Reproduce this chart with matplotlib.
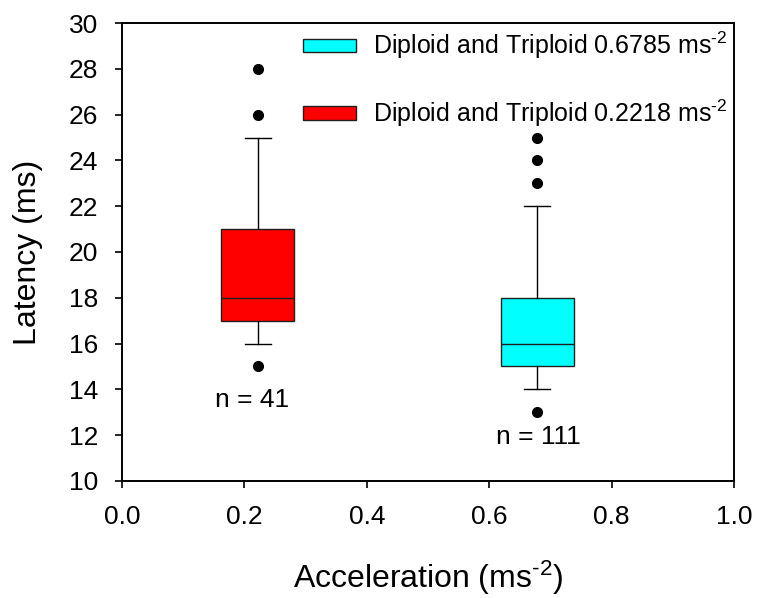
import matplotlib
matplotlib.use("Agg")
import matplotlib.pyplot as plt
from matplotlib.patches import Patch
import numpy as np

plt.rcParams['font.family'] = ['Liberation Sans', 'DejaVu Sans']
plt.rcParams['mathtext.fontset'] = 'custom'
plt.rcParams['mathtext.rm'] = 'Liberation Sans'
plt.rcParams['mathtext.it'] = 'Liberation Sans:italic'

# box summaries
accel = [0.2218, 0.6785]
colors = ['#ff0000', '#00ffff']
q1 = [17, 15]
med = [18, 16]
q3 = [21, 18]
wlo = [16, 14]
whi = [25, 22]
fliers = [[15, 26, 28], [13, 23, 24, 25]]
n_labels = ['n = 41', 'n = 111']
n_pos = [(0.213, 13.55), (0.681, 11.9)]
legend_labels = [r'Diploid and Triploid 0.6785 ms$^{\text{-2}}$',
                 r'Diploid and Triploid 0.2218 ms$^{\text{-2}}$']

stats = []
for i in range(2):
    stats.append(dict(q1=q1[i], med=med[i], q3=q3[i], whislo=wlo[i],
                      whishi=whi[i], fliers=np.array(fliers[i])))

fig = plt.figure(figsize=(7.57, 5.98), dpi=100)
ax = fig.add_axes([0.1612, 0.1957, 0.8084, 0.7658])

bp = ax.bxp(stats, positions=accel, widths=0.12, capwidths=0.043,
            patch_artist=True, manage_ticks=False,
            boxprops=dict(edgecolor='#202020', linewidth=1.0),
            medianprops=dict(color='#202020', linewidth=1.0),
            whiskerprops=dict(color='black', linewidth=1.0),
            capprops=dict(color='black', linewidth=1.0),
            flierprops=dict(marker='o', markerfacecolor='black',
                            markeredgecolor='black', markersize=7))
for box, c in zip(bp['boxes'], colors):
    box.set_facecolor(c)

for lab, (x, y) in zip(n_labels, n_pos):
    ax.text(x, y, lab, ha='center', va='center', fontsize=19)

ax.set_xlim(0, 1)
ax.set_ylim(10, 30)
ax.set_xticks(np.arange(0, 1.01, 0.2))
ax.set_yticks(np.arange(10, 31, 2))
ax.xaxis.set_major_formatter(matplotlib.ticker.FormatStrFormatter('%.1f'))
ax.tick_params(direction='out', length=5, width=1.2, labelsize=19, pad=12)
for s in ax.spines.values():
    s.set_linewidth(1.4)

ax.set_xlabel(r'Acceleration (ms$^{\text{-2}}$)', fontsize=23, labelpad=22)
ax.set_ylabel('Latency (ms)', fontsize=23, labelpad=19)

handles = [Patch(facecolor=colors[1], edgecolor='#202020'),
           Patch(facecolor=colors[0], edgecolor='#202020')]
ax.legend(handles, legend_labels, loc='upper left',
          bbox_to_anchor=(0.296, 0.985), frameon=False, fontsize=18,
          handlelength=2.1, handleheight=0.45, handletextpad=0.7,
          labelspacing=1.45, borderpad=0, borderaxespad=0)

fig.savefig('out.png', dpi=100)
